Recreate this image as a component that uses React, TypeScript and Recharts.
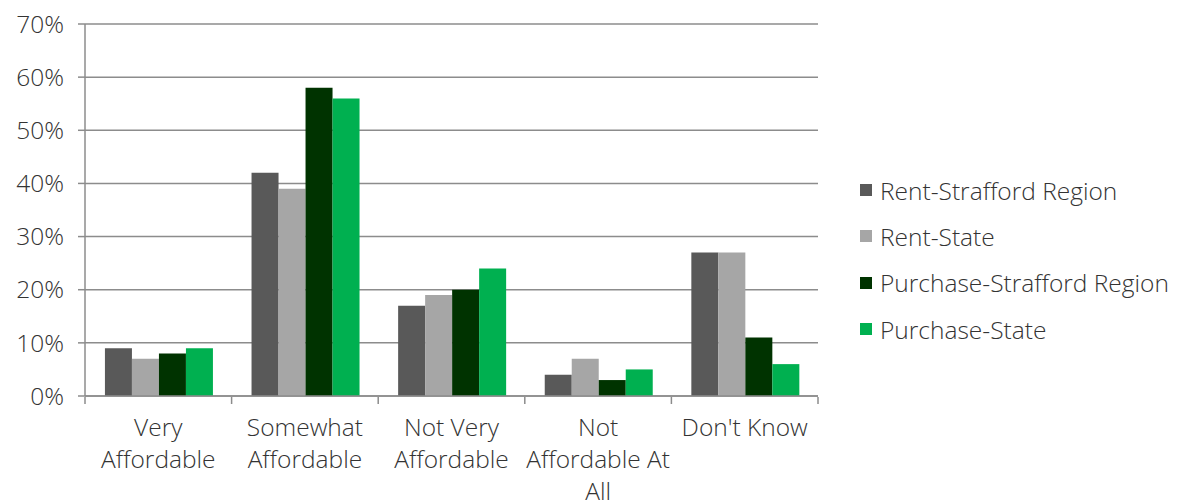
import React from "react";
import { BarChart, Bar, XAxis, YAxis, CartesianGrid, Legend } from "recharts";

const categories = ["Very\nAffordable", "Somewhat\nAffordable", "Not Very\nAffordable", "Not\nAffordable At\nAll", "Don't Know"];
const rentStrafford = [9, 42, 17, 4, 27];
const rentState = [7, 39, 19, 7, 27];
const purchaseStrafford = [8, 58, 20, 3, 11];
const purchaseState = [9, 56, 24, 5, 6];
const yTicks = [0, 10, 20, 30, 40, 50, 60, 70];

const seriesNames = ["Rent-Strafford Region", "Rent-State", "Purchase-Strafford Region", "Purchase-State"];
const seriesKeys = ["rs", "rst", "ps", "pst"];
const seriesColors = ["#595959", "#A6A6A6", "#003300", "#00B050"];

const data = categories.map((c, i) => ({
  name: c,
  rs: rentStrafford[i],
  rst: rentState[i],
  ps: purchaseStrafford[i],
  pst: purchaseState[i],
}));

const FONT = "'Open Sans', 'Liberation Sans', sans-serif";
const WEIGHT = 300;
const FSIZE = 24.5;
const TEXT = "#333333";
const LINE = "#8c8c8c";

const XTick = (props: any) => {
  const { x, y, payload, index } = props;
  const lines = String(payload.value).split("\n");
  const off = payload.offset || 0;
  return (
    <g>
      <line x1={x - off} x2={x - off} y1={y - 7} y2={y} stroke={LINE} strokeWidth={1.5} />
      {index === categories.length - 1 && (
        <line x1={x + off} x2={x + off} y1={y - 7} y2={y} stroke={LINE} strokeWidth={1.5} />
      )}
      <text x={x} y={y} textAnchor="middle" fill={TEXT} fontFamily={FONT} fontWeight={WEIGHT} fontSize={FSIZE}>
        {lines.map((l, i) => (
          <tspan key={i} x={x} dy={i === 0 ? 32 : 32}>{l}</tspan>
        ))}
      </text>
    </g>
  );
};

const LegendContent = () => (
  <div style={{ fontFamily: FONT, fontWeight: WEIGHT, fontSize: FSIZE, color: TEXT }}>
    {seriesNames.map((n, i) => (
      <div key={n} style={{ display: "flex", alignItems: "center", height: 46.3, paddingLeft: 42 }}>
        <span style={{ display: "inline-block", flexShrink: 0, width: 12, height: 12, background: seriesColors[i], marginRight: 8 }} />
        <span style={{ whiteSpace: "nowrap" }}>{n}</span>
      </div>
    ))}
  </div>
);

export default function App() {
  return (
    <div style={{ position: "absolute", left: 0, top: 0, width: 1178, height: 500, background: "#fff" }}>
      <BarChart
        width={1178}
        height={500}
        data={data}
        margin={{ top: 24, right: 0, bottom: 0, left: 0 }}
        barCategoryGap="13.6%"
        barGap={0}
      >
        <CartesianGrid vertical={false} stroke={LINE} strokeWidth={1.5} />
        <XAxis
          dataKey="name"
          height={104}
          axisLine={{ stroke: LINE, strokeWidth: 1.5 }}
          tickLine={false}
          tick={<XTick />}
          interval={0}
        />
        <YAxis
          width={85}
          domain={[0, 70]}
          ticks={yTicks}
          tickFormatter={(v: number) => `${v}%`}
          axisLine={{ stroke: LINE, strokeWidth: 1.5 }}
          tickLine={{ stroke: LINE, strokeWidth: 1.5 }}
          tickSize={7}
          tickMargin={14}
          tick={{ fill: TEXT, fontFamily: FONT, fontWeight: WEIGHT, fontSize: FSIZE }}
        />
        <Legend
          layout="vertical"
          align="right"
          verticalAlign="middle"
          content={<LegendContent />}
          wrapperStyle={{ width: 360, top: 167 }}
        />
        {seriesKeys.map((k, i) => (
          <Bar key={k} dataKey={k} name={seriesNames[i]} fill={seriesColors[i]} isAnimationActive={false} />
        ))}
      </BarChart>
    </div>
  );
}
